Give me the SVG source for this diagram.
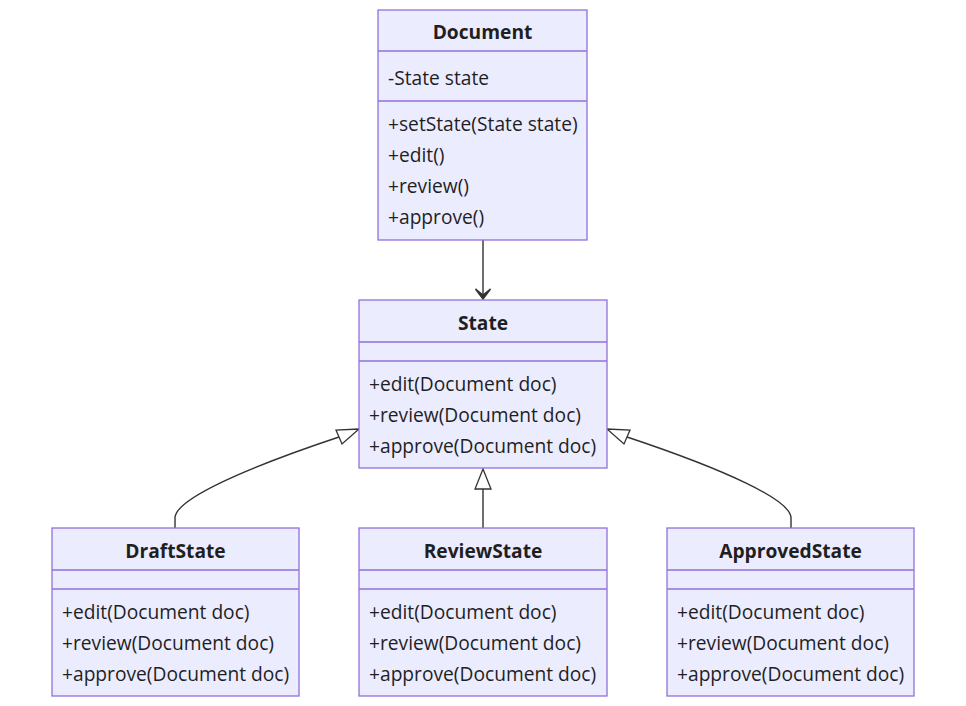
<svg xmlns="http://www.w3.org/2000/svg" width="966" height="706" viewBox="0 0 966 706">
<style>
.box{fill:#ECECFF;stroke:#9370DB;stroke-width:1.3}
.div{stroke:#9370DB;stroke-width:1.3}
.t{font-family:"Open Sans","Noto Sans",sans-serif;font-size:19.2px;fill:#1f1f1f}
.h{font-weight:bold;text-anchor:middle}
.edge{fill:none;stroke:#333;stroke-width:1.4}
.head{fill:#fff;stroke:#333;stroke-width:1.3}
</style>
<rect width="966" height="706" fill="#fff"/>
<g id="connectors">
<line class="edge" x1="483" y1="240" x2="483" y2="298"/>
<path d="M475.5,289 L483,299 L490.5,289 L483,295 Z" fill="#333" stroke="#333" stroke-width="1.5" stroke-linejoin="miter"/>
<path class="edge" d="M175,528 L175,518 C175,500 240,470 339,437"/>
<polygon class="head" points="359,429 336,430 342,444"/>
<path class="edge" d="M791,528 L791,518 C791,500 726,470 627,437"/>
<polygon class="head" points="607,429 630,430 624,444"/>
<line class="edge" x1="483" y1="489" x2="483" y2="528"/>
<polygon class="head" points="483,469 475,489 491,489"/>
</g>
<g id="Document">
<rect class="box" x="378" y="10" width="209" height="230"/>
<line class="div" x1="378" y1="51" x2="587" y2="51"/>
<line class="div" x1="378" y1="101" x2="587" y2="101"/>
<text class="t h" x="482.5" y="39">Document</text>
<text class="t" x="388" y="85">-State state</text>
<text class="t" x="388" y="131">+setState(State state)</text>
<text class="t" x="388" y="162">+edit()</text>
<text class="t" x="388" y="193">+review()</text>
<text class="t" x="388" y="224">+approve()</text>
</g>
<g id="State">
<rect class="box" x="359" y="300" width="248" height="168"/>
<line class="div" x1="359" y1="342" x2="607" y2="342"/>
<line class="div" x1="359" y1="361" x2="607" y2="361"/>
<text class="t h" x="483" y="330">State</text>
<text class="t" x="369" y="391">+edit(Document doc)</text>
<text class="t" x="369" y="422">+review(Document doc)</text>
<text class="t" x="369" y="453">+approve(Document doc)</text>
</g>
<g id="DraftState">
<rect class="box" x="52" y="528" width="247" height="168"/>
<line class="div" x1="52" y1="570" x2="299" y2="570"/>
<line class="div" x1="52" y1="589" x2="299" y2="589"/>
<text class="t h" x="175.5" y="558">DraftState</text>
<text class="t" x="62" y="619">+edit(Document doc)</text>
<text class="t" x="62" y="650">+review(Document doc)</text>
<text class="t" x="62" y="681">+approve(Document doc)</text>
</g>
<g id="ReviewState">
<rect class="box" x="359" y="528" width="248" height="168"/>
<line class="div" x1="359" y1="570" x2="607" y2="570"/>
<line class="div" x1="359" y1="589" x2="607" y2="589"/>
<text class="t h" x="483" y="558">ReviewState</text>
<text class="t" x="369" y="619">+edit(Document doc)</text>
<text class="t" x="369" y="650">+review(Document doc)</text>
<text class="t" x="369" y="681">+approve(Document doc)</text>
</g>
<g id="ApprovedState">
<rect class="box" x="667" y="528" width="247" height="168"/>
<line class="div" x1="667" y1="570" x2="914" y2="570"/>
<line class="div" x1="667" y1="589" x2="914" y2="589"/>
<text class="t h" x="790.5" y="558">ApprovedState</text>
<text class="t" x="677" y="619">+edit(Document doc)</text>
<text class="t" x="677" y="650">+review(Document doc)</text>
<text class="t" x="677" y="681">+approve(Document doc)</text>
</g>
</svg>
